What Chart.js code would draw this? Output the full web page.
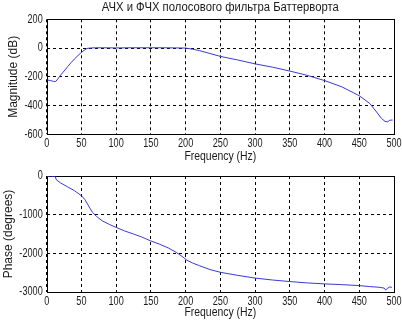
<!DOCTYPE html>
<html>
<head>
<meta charset="utf-8">
<script src="https://cdn.jsdelivr.net/npm/chart.js@4/dist/chart.umd.min.js"></script>
<style>
  html, body { margin: 0; padding: 0; background: #ffffff; }
  #wrap { position: relative; width: 402px; height: 322px; overflow: hidden; background: #ffffff; }
  canvas { position: absolute; left: 0; }
  #mag { top: 0; }
  #phase { top: 161px; }
</style>
</head>
<body>
<div id="wrap">
  <canvas id="mag" width="402" height="165"></canvas>
  <canvas id="phase" width="402" height="161"></canvas>
</div>
<script>
// Amplitude response of the Butterworth band-pass filter, dB
const magFreq = [1, 5, 10, 13, 16, 20, 25, 30, 35, 40, 45, 50, 55, 58, 62, 70, 80, 100, 120, 150, 170, 200,
                 210, 220, 235, 250, 275, 300, 325, 350, 375, 400, 425, 450, 465, 475, 482, 487, 491, 494, 498];
const magDb   = [-222, -226, -232, -233, -215, -188, -160, -130, -102, -76, -52, -30, -12, -3, 0, 2, 2, 1, 2, 2, 2, 0,
                 -8, -18, -38, -58, -83, -110, -133, -160, -190, -226, -270, -332, -385, -445, -490, -510, -513, -502, -501];

// Phase response, degrees
const phaseFreq = [0, 3, 6, 8, 10, 12, 14, 20, 30, 40, 50, 55, 58, 62, 66, 72, 80, 90, 100, 112, 125, 137, 150,
                   162, 175, 187, 195, 202, 210, 220, 235, 250, 275, 300, 325, 350, 375, 400, 425, 450, 465, 480,
                   486, 488, 491, 494, 497];
const phaseDeg  = [0, -5, 5, -10, 0, -10, -100, -180, -280, -380, -510, -610, -700, -830, -940, -1050, -1160,
                   -1250, -1330, -1420, -1500, -1580, -1680, -1760, -1860, -1980, -2080, -2180, -2250, -2320,
                   -2420, -2490, -2570, -2640, -2690, -2730, -2765, -2790, -2810, -2835, -2860, -2880, -2900,
                   -2950, -2900, -2870, -2880];

const titleText = 'АЧХ и ФЧХ полосового фильтра Баттерворта';
const xTitle = 'Frequency (Hz)';
const magTitle = 'Magnitude (dB)';
const phaseTitle = 'Phase (degrees)';
const xTicks = [0, 50, 100, 150, 200, 250, 300, 350, 400, 450, 500];
const magTicks = [-600, -400, -200, 0, 200];
const phaseTicks = [-3000, -2000, -1000, 0];

const FONT_FAMILY = '"Liberation Sans", Arial, sans-serif';
const TEXT = '#1a1a1a';
const LINE = '#3a3ad8';

Chart.defaults.font.family = FONT_FAMILY;
Chart.defaults.font.size = 12;
Chart.defaults.color = TEXT;

// Horizontal squeeze per label: the figure uses a narrow sans face
const squeeze = { [titleText]: 0.94, [xTitle]: 0.87, [magTitle]: 1, [phaseTitle]: 1 };
const NUMBER_SQUEEZE = 0.76;

function condenseText(canvas) {
  const ctx = canvas.getContext('2d');
  const base = ctx.fillText.bind(ctx);
  ctx.fillText = (text, x, y, maxWidth) => {
    const s = String(text);
    const k = s in squeeze ? squeeze[s] : NUMBER_SQUEEZE;
    const w = ctx.measureText(s).width * k;
    base(s, x, y, maxWidth === undefined ? w : Math.min(maxWidth, w));
  };
}

// Solid box round the plotting area
const frame = {
  id: 'frame',
  beforeDatasetsDraw(chart) {
    const { ctx, chartArea: a } = chart;
    ctx.save();
    ctx.strokeStyle = '#000';
    ctx.lineWidth = 1;
    ctx.setLineDash([]);
    ctx.strokeRect(Math.round(a.left) + 0.5, Math.round(a.top) + 0.5,
                   Math.round(a.right) - Math.round(a.left), Math.round(a.bottom) - Math.round(a.top));
    ctx.restore();
  }
};

// Figure title centred over the plotting area
const figTitle = {
  id: 'figTitle',
  afterDraw(chart, args, opts) {
    if (!opts.text) return;
    const { ctx, chartArea: a } = chart;
    ctx.save();
    ctx.font = '12px ' + FONT_FAMILY;
    ctx.fillStyle = TEXT;
    ctx.textAlign = 'center';
    ctx.textBaseline = 'middle';
    ctx.fillText(opts.text, (a.left + a.right) / 2, opts.y);
    ctx.restore();
  }
};

function points(xs, ys) {
  return xs.map((x, i) => ({ x, y: ys[i] }));
}

function makeChart(el, cfg) {
  condenseText(el);
  const xScale = {
    type: 'linear', min: 0, max: 500,
    afterBuildTicks: s => { s.ticks = cfg.xTicks.map(v => ({ value: v })); },
    afterFit: s => { s.height = cfg.xHeight; s.paddingLeft = 0; s.paddingRight = 0; },
    grid: { color: '#000', lineWidth: 1, drawTicks: false },
    border: { display: false, dash: [3, 3] },
    ticks: { color: TEXT, padding: 2, maxRotation: 0, autoSkip: false, callback: v => String(v) },
    title: { display: true, text: xTitle, color: TEXT, font: { size: 12, lineHeight: 1 },
             padding: { top: 0, bottom: cfg.xTitlePad } }
  };
  const yScale = {
    type: 'linear', min: cfg.yMin, max: cfg.yMax,
    afterBuildTicks: s => { s.ticks = cfg.yTicks.map(v => ({ value: v })); },
    afterFit: s => { s.width = 46.7; s.paddingTop = 0; s.paddingBottom = 0; },
    grid: { color: '#000', lineWidth: 1, drawTicks: false },
    border: { display: false, dash: [3, 3] },
    ticks: { color: TEXT, padding: 4, autoSkip: false, callback: v => String(v) },
    title: { display: true, text: cfg.yTitle, color: TEXT, font: { size: 12, lineHeight: 1 },
             padding: { top: cfg.yTitlePad, bottom: 0 } }
  };
  return new Chart(el, {
    type: 'line',
    data: {
      datasets: [{
        data: points(cfg.xs, cfg.ys),
        borderColor: LINE,
        borderWidth: 1,
        pointRadius: 0,
        tension: 0,
        fill: false
      }]
    },
    options: {
      responsive: false,
      animation: false,
      devicePixelRatio: 1,
      layout: { padding: { left: 0, right: 8, top: cfg.padTop, bottom: 0 } },
      plugins: {
        legend: { display: false },
        tooltip: { enabled: false },
        title: { display: false },
        figTitle: { text: cfg.title, y: 7.5 }
      },
      scales: { x: xScale, y: yScale }
    },
    plugins: [frame, figTitle]
  });
}

makeChart(document.getElementById('mag'), {
  xs: magFreq, ys: magDb, yMin: -600, yMax: 200,
  xTicks, yTicks: magTicks, yTitle: magTitle, title: titleText,
  padTop: 19.3, xHeight: 30.7, xTitlePad: 2, yTitlePad: 8
});

makeChart(document.getElementById('phase'), {
  xs: phaseFreq, ys: phaseDeg, yMin: -3000, yMax: 0,
  xTicks, yTicks: phaseTicks, yTitle: phaseTitle, title: null,
  padTop: 15, xHeight: 30, xTitlePad: 3, yTitlePad: 2.5
});
</script>
</body>
</html>
